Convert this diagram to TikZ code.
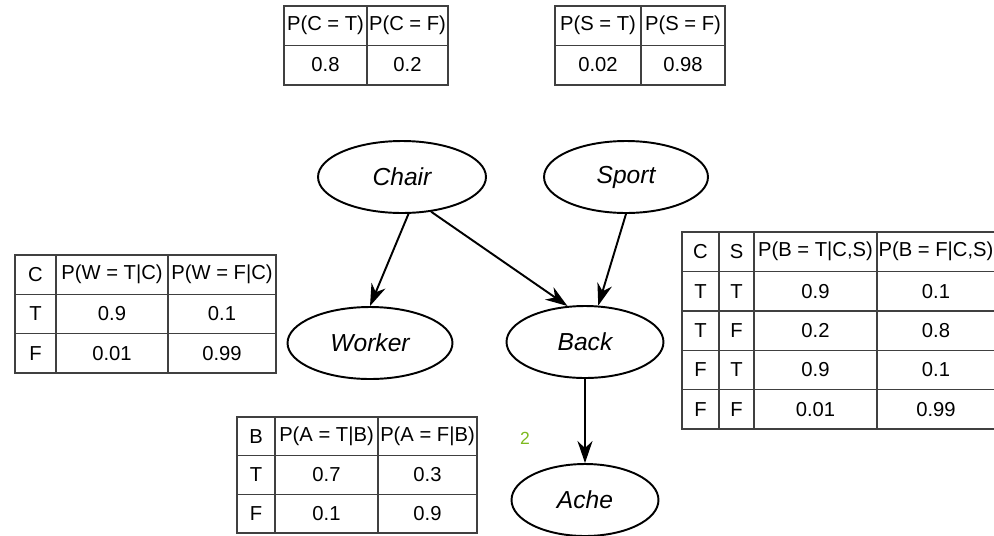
\documentclass[tikz,border=0pt]{standalone}
\usepackage{fontspec}
\setmainfont{Liberation Sans}
\usetikzlibrary{shapes.geometric,arrows.meta}
\definecolor{pagegreen}{RGB}{125,185,30}

\begin{document}
\begin{tikzpicture}[x=0.02cm, y=-0.02cm,
    var/.style={ellipse, draw, line width=1.1pt, inner sep=0pt, minimum height=1.44cm, font=\fontsize{14}{16}\selectfont\itshape},
    cell/.style={inner sep=0pt, font=\fontsize{11.5}{13}\selectfont},
    grid/.style={draw=black!75, line width=0.8pt},
    link/.style={-{Stealth[length=4.4mm, width=3mm, inset=1.4mm]}, line width=1.1pt}]
    \useasboundingbox (0,0) rectangle (994,535);

    % network
    \node[var, minimum width=3.36cm] (chair) at (402,177) {Chair};
    \node[var, minimum width=3.28cm] (sport) at (626,177) {Sport};
    \node[var, minimum width=3.30cm] (worker) at (370,343) {Worker};
    \node[var, minimum width=3.14cm] (back) at (585,342) {Back};
    \node[var, minimum width=2.94cm] (ache) at (585,500) {Ache};

    \draw[link] (chair.-80) -- (worker.north);
    \draw[link] (chair.-50) -- (back.116);
    \draw[link] (sport.south) -- (back.70);
    \draw[link] (back.south) -- (ache.north);

    % P(C)
    \draw[grid] (284,6) rectangle (448,85);
    \draw[grid] (284,45.5) -- (448,45.5);
    \draw[grid] (367,6) -- (367,85);
    \node[cell] (pc11) at (325.5,25.5) {P(C = T)};
    \node[cell] (pc12) at (407.5,25.5) {P(C = F)};
    \node[cell] (pc21) at (325.5,65) {0.8};
    \node[cell] (pc22) at (407.5,65) {0.2};

    % P(S)
    \draw[grid] (555,6) rectangle (725,85);
    \draw[grid] (555,45.5) -- (725,45.5);
    \draw[grid] (641,6) -- (641,85);
    \node[cell] (ps11) at (598,25.5) {P(S = T)};
    \node[cell] (ps12) at (683,25.5) {P(S = F)};
    \node[cell] (ps21) at (598,65) {0.02};
    \node[cell] (ps22) at (683,65) {0.98};

    % P(W|C)
    \draw[grid] (15,255) rectangle (276,373);
    \draw[grid] (15,294.3) -- (276,294.3);
    \draw[grid] (15,333.7) -- (276,333.7);
    \draw[grid] (56,255) -- (56,373);
    \draw[grid] (168,255) -- (168,373);
    \node[cell] (pw11) at (35.5,274.7) {C};
    \node[cell] (pw12) at (112,274.7) {P(W = T|C)};
    \node[cell] (pw13) at (222,274.7) {P(W = F|C)};
    \node[cell] (pw21) at (35.5,314) {T};
    \node[cell] (pw22) at (112,314) {0.9};
    \node[cell] (pw23) at (222,314) {0.1};
    \node[cell] (pw31) at (35.5,353.4) {F};
    \node[cell] (pw32) at (112,353.4) {0.01};
    \node[cell] (pw33) at (222,353.4) {0.99};

    % P(B|C,S)
    \draw[grid] (994,232) -- (682,232) -- (682,429) -- (994,429);
    \draw[grid] (682,271.4) -- (994,271.4);
    \draw[grid] (682,310.8) -- (994,310.8);
    \draw[grid] (682,350.2) -- (994,350.2);
    \draw[grid] (682,389.6) -- (994,389.6);
    \draw[grid] (719,232) -- (719,429);
    \draw[grid] (754,232) -- (754,429);
    \draw[grid] (877,232) -- (877,429);
    \node[cell] (pb11) at (700.5,251.7) {C};
    \node[cell] (pb12) at (736.5,251.7) {S};
    \node[cell] (pb13) at (815.5,251.7) {P(B = T|C,S)};
    \node[cell] (pb14) at (936,251.7) {P(B = F|C,S)};
    \node[cell] (pb21) at (700.5,291.1) {T};
    \node[cell] (pb22) at (736.5,291.1) {T};
    \node[cell] (pb23) at (815.5,291.1) {0.9};
    \node[cell] (pb24) at (936,291.1) {0.1};
    \node[cell] (pb31) at (700.5,330.5) {T};
    \node[cell] (pb32) at (736.5,330.5) {F};
    \node[cell] (pb33) at (815.5,330.5) {0.2};
    \node[cell] (pb34) at (936,330.5) {0.8};
    \node[cell] (pb41) at (700.5,369.9) {F};
    \node[cell] (pb42) at (736.5,369.9) {T};
    \node[cell] (pb43) at (815.5,369.9) {0.9};
    \node[cell] (pb44) at (936,369.9) {0.1};
    \node[cell] (pb51) at (700.5,409.3) {F};
    \node[cell] (pb52) at (736.5,409.3) {F};
    \node[cell] (pb53) at (815.5,409.3) {0.01};
    \node[cell] (pb54) at (936,409.3) {0.99};

    % P(A|B)
    \draw[grid] (237,417) rectangle (477,533);
    \draw[grid] (237,455.7) -- (477,455.7);
    \draw[grid] (237,494.3) -- (477,494.3);
    \draw[grid] (275,417) -- (275,533);
    \draw[grid] (378,417) -- (378,533);
    \node[cell] (pa11) at (256,436.4) {B};
    \node[cell] (pa12) at (326.5,436.4) {P(A = T|B)};
    \node[cell] (pa13) at (427.5,436.4) {P(A = F|B)};
    \node[cell] (pa21) at (256,475) {T};
    \node[cell] (pa22) at (326.5,475) {0.7};
    \node[cell] (pa23) at (427.5,475) {0.3};
    \node[cell] (pa31) at (256,513.7) {F};
    \node[cell] (pa32) at (326.5,513.7) {0.1};
    \node[cell] (pa33) at (427.5,513.7) {0.9};

    \node[text=pagegreen, inner sep=0pt, font=\fontsize{10}{12}\selectfont] (pagenum) at (525,438) {2};
\end{tikzpicture}
\end{document}
